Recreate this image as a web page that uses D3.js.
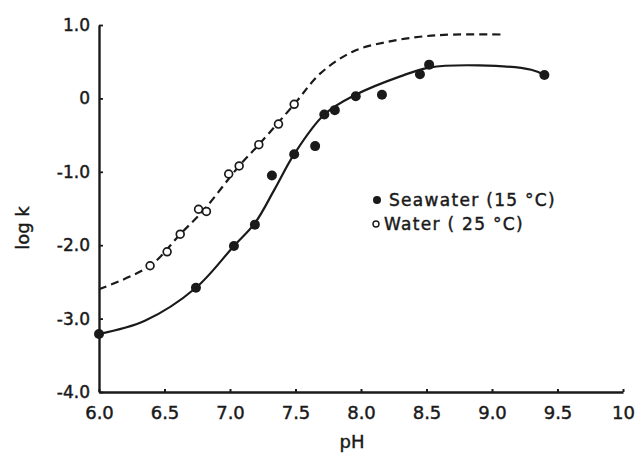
<!DOCTYPE html>
<html>
<head>
<meta charset="utf-8">
<script src="https://cdn.jsdelivr.net/npm/d3@7/dist/d3.min.js"></script>
<style>
  html, body { margin: 0; padding: 0; background: #fff; }
  svg { display: block; }
  text { font-family: "DejaVu Sans", sans-serif; fill: #1a1a1a; stroke: #1a1a1a; stroke-width: 0.45px; }
</style>
</head>
<body>
<svg id="chart" width="642" height="455"></svg>
<script>
// ---- Data ----
const xTicks = [6.0, 6.5, 7.0, 7.5, 8.0, 8.5, 9.0, 9.5, 10];
const xTickLabels = ["6.0", "6.5", "7.0", "7.5", "8.0", "8.5", "9.0", "9.5", "10"];
const yTicks = [1, 0, -1, -2, -3, -4];
const yTickLabels = ["1.0", "0", "-1.0", "-2.0", "-3.0", "-4.0"];

// Seawater (15 °C) measured points: [pH, log k]
const seawaterPH   = [6.00, 6.74, 7.03, 7.19, 7.32, 7.49, 7.65, 7.72, 7.80, 7.96, 8.16, 8.45, 8.52, 9.40];
const seawaterLogK = [-3.21, -2.58, -2.01, -1.72, -1.05, -0.76, -0.65, -0.22, -0.16, 0.03, 0.05, 0.33, 0.46, 0.32];

// Water (25 °C) measured points
const waterPH   = [6.39, 6.52, 6.62, 6.76, 6.82, 6.99, 7.07, 7.22, 7.37, 7.49];
const waterLogK = [-2.28, -2.09, -1.85, -1.51, -1.54, -1.03, -0.92, -0.63, -0.35, -0.08];

// Fitted curves as drawn in the figure
const seaCurvePH   = [6.00, 6.35, 6.74, 7.03, 7.19, 7.34, 7.49, 7.72, 7.96, 8.30, 8.52, 8.90, 9.30, 9.40];
const seaCurveLogK = [-3.21, -3.03, -2.58, -2.01, -1.70, -1.24, -0.76, -0.22, 0.05, 0.30, 0.42, 0.45, 0.39, 0.32];
const waterCurvePH   = [6.00, 6.39, 6.62, 6.80, 7.07, 7.22, 7.49, 7.69, 7.94, 8.20, 8.45, 8.70, 9.09];
const waterCurveLogK = [-2.60, -2.28, -1.85, -1.52, -0.92, -0.63, -0.08, 0.34, 0.64, 0.77, 0.84, 0.87, 0.87];

const legendLabels = ["Seawater (15 °C)", "Water ( 25 °C)"];

// ---- Drawing ----
const ink = "#1a1a1a";
const svg = d3.select("#chart");
const x = d3.scaleLinear().domain([6, 10]).range([99, 623]);
const y = d3.scaleLinear().domain([-4, 1]).range([392, 25]);

// Y axis
const yAxis = d3.axisLeft(y)
  .tickValues(yTicks)
  .tickFormat((d, i) => yTickLabels[i])
  .tickSize(-4).tickSizeOuter(0).tickPadding(10);
const gy = svg.append("g").attr("transform", `translate(${x(6)},0)`).call(yAxis);
gy.select(".domain").attr("stroke", ink).attr("stroke-width", 2.4);
gy.selectAll(".tick line").attr("stroke", ink).attr("stroke-width", 1.8);
gy.selectAll(".tick text").style("font-size", "17px").style("font-family", "DejaVu Sans")
  .attr("fill", ink).attr("x", -9);

// X axis
const xAxis = d3.axisBottom(x)
  .tickValues(xTicks)
  .tickFormat((d, i) => xTickLabels[i])
  .tickSize(-3).tickSizeOuter(0).tickPadding(14);
const gx = svg.append("g").attr("transform", `translate(0,${y(-4)})`).call(xAxis);
gx.select(".domain").attr("stroke", ink).attr("stroke-width", 2.4);
gx.selectAll(".tick line").attr("stroke", ink).attr("stroke-width", 2);
gx.selectAll(".tick text").style("font-size", "18px").style("font-family", "DejaVu Sans")
  .attr("fill", ink);

// Axis titles
svg.append("text").attr("x", 352).attr("y", 448).attr("text-anchor", "middle")
  .style("font-size", "18px").text("pH");
svg.append("text").attr("transform", "translate(29,228) rotate(-90)").attr("text-anchor", "middle")
  .style("font-size", "18px").text("log k");

// Curves
const line = d3.line().x(d => x(d[0])).y(d => y(d[1])).curve(d3.curveCatmullRom.alpha(0.5));
svg.append("path")
  .datum(waterCurvePH.map((p, i) => [p, waterCurveLogK[i]]))
  .attr("d", line).attr("fill", "none").attr("stroke", ink)
  .attr("stroke-width", 2.2).attr("stroke-dasharray", "8,5");
svg.append("path")
  .datum(seaCurvePH.map((p, i) => [p, seaCurveLogK[i]]))
  .attr("d", line).attr("fill", "none").attr("stroke", ink)
  .attr("stroke-width", 2.2);

// Points
svg.append("g").selectAll("circle")
  .data(waterPH.map((p, i) => [p, waterLogK[i]]))
  .join("circle")
  .attr("cx", d => x(d[0])).attr("cy", d => y(d[1])).attr("r", 3.9)
  .attr("fill", "#fff").attr("stroke", ink).attr("stroke-width", 1.7);
svg.append("g").selectAll("circle")
  .data(seawaterPH.map((p, i) => [p, seawaterLogK[i]]))
  .join("circle")
  .attr("cx", d => x(d[0])).attr("cy", d => y(d[1])).attr("r", 5)
  .attr("fill", ink);

// Legend
const lg = svg.append("g");
lg.append("circle").attr("cx", 377).attr("cy", 200).attr("r", 4).attr("fill", ink);
lg.append("text").attr("x", 389).attr("y", 206).style("font-size", "17px")
  .style("letter-spacing", "1.3px").text(legendLabels[0]);
lg.append("circle").attr("cx", 376).attr("cy", 224).attr("r", 3).attr("fill", "#fff")
  .attr("stroke", ink).attr("stroke-width", 1.4);
lg.append("text").attr("x", 384).attr("y", 230).style("font-size", "17px")
  .style("letter-spacing", "1.3px").text(legendLabels[1]);
</script>
</body>
</html>
